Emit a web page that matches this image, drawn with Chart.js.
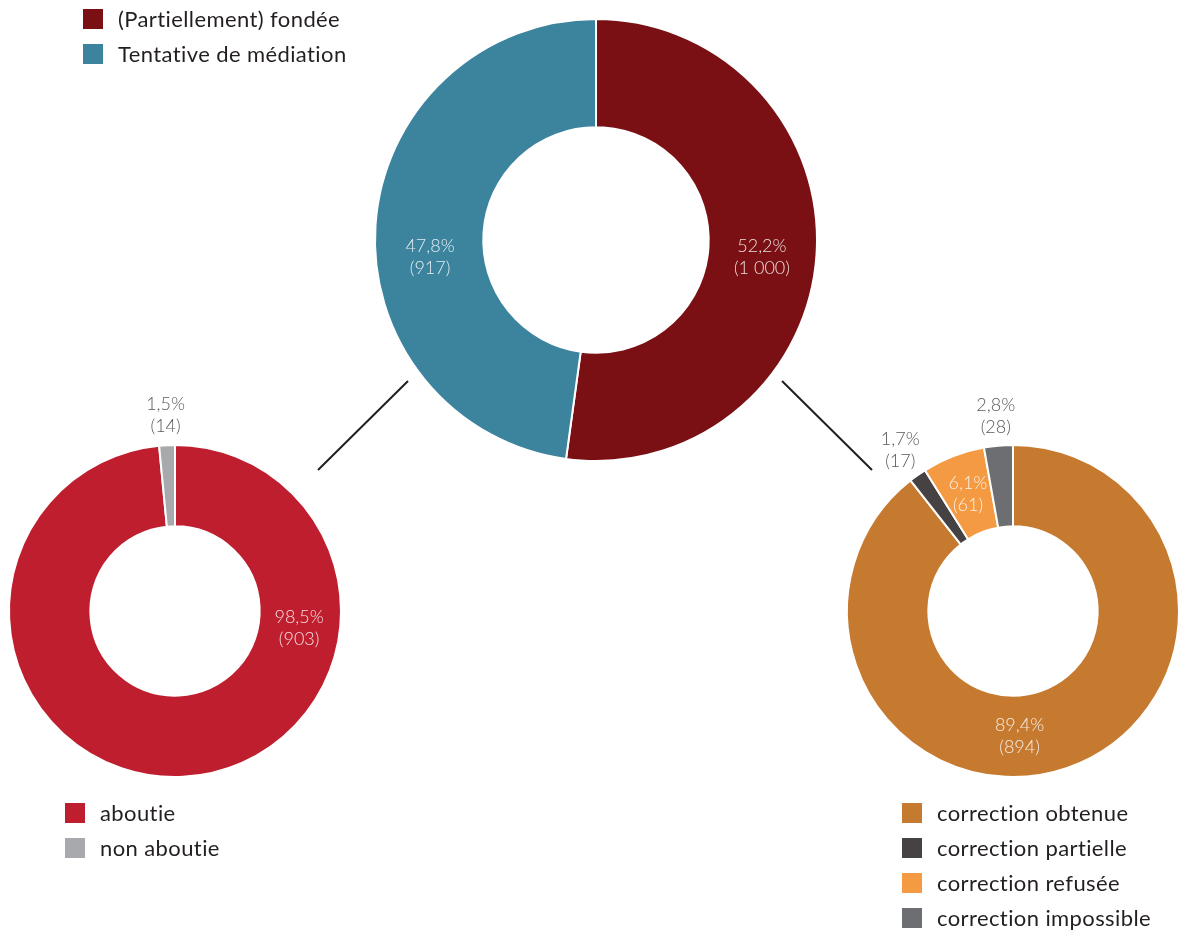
<!DOCTYPE html>
<html>
<head>
<meta charset="utf-8">
<script src="https://cdn.jsdelivr.net/npm/chart.js"></script>
<style>
    body { margin: 0; background: #fff; font-family: Lato, "Open Sans", sans-serif; font-variant-ligatures: none; }
    #wrap { position: relative; width: 1186px; height: 936px; overflow: hidden; }
    #wrap canvas { position: absolute; left: 0; top: 0; }
    .legend { position: absolute; font-size: 22px; letter-spacing: 0.4px; color: #231f20; }
    .legend .row { display: flex; align-items: center; height: 35px; }
    .legend .box { width: 20px; height: 20px; margin-right: 15px; }
</style>
</head>
<body>
<div id="wrap">
    <canvas id="lines" width="1186" height="936"></canvas>
    <canvas id="topChart" width="1186" height="936"></canvas>
    <canvas id="leftChart" width="1186" height="936"></canvas>
    <canvas id="rightChart" width="1186" height="936"></canvas>
    <div class="legend" id="topLegend" style="left:83px; top:1px;"></div>
    <div class="legend" id="leftLegend" style="left:65px; top:795px;"></div>
    <div class="legend" id="rightLegend" style="left:902px; top:795px;"></div>
</div>

<script>
// Données
const topLabels = ['(Partiellement) fondée', 'Tentative de médiation'];
const topValues = [1000, 917];

const leftLabels = ['aboutie', 'non aboutie'];
const leftValues = [903, 14];

const rightLabels = ['correction obtenue', 'correction partielle', 'correction refusée', 'correction impossible'];
const rightValues = [894, 17, 61, 28];

// Couleurs
const topColors = ['#7a1013', '#3c839e'];
const leftColors = ['#be1e2d', '#a7a9ac'];
const rightColors = ['#c67a2f', '#464143', '#f49a42', '#6d6e71'];

function fmtNum(v) {
    return String(v).replace(/\B(?=(\d{3})+(?!\d))/g, ' ');
}

// Etiquettes des secteurs : "xx,x%" + "(n)"
const sliceLabels = {
    id: 'sliceLabels',
    afterDatasetsDraw(chart, args, opts) {
        const ctx = chart.ctx;
        const data = chart.data.datasets[0].data;
        const total = data.reduce((a, b) => a + b, 0);
        chart.getDatasetMeta(0).data.forEach((arc, i) => {
            const p = arc.getProps(['x', 'y', 'startAngle', 'endAngle', 'innerRadius', 'outerRadius'], true);
            const outside = opts.outside[i];
            const a = opts.angles[i] != null ? (opts.angles[i] - 90) * Math.PI / 180 : (p.startAngle + p.endAngle) / 2;
            const r = outside ? p.outerRadius + 30 : (p.innerRadius + p.outerRadius) / 2;
            const x = p.x + Math.cos(a) * r;
            const y = p.y + Math.sin(a) * r;
            const pct = (data[i] / total * 100).toFixed(1).replace('.', ',') + '%';
            ctx.save();
            ctx.font = '300 18px Lato, "Open Sans", sans-serif';
            ctx.fillStyle = outside ? '#58595b' : 'rgba(255,255,255,0.85)';
            ctx.textAlign = 'center';
            ctx.textBaseline = 'middle';
            ctx.fillText(pct, x, y - 11);
            ctx.fillText('(' + fmtNum(data[i]) + ')', x, y + 11);
            ctx.restore();
        });
    }
};

function makeDoughnut(id, labels, values, colors, cx, cy, radius, labelOpts) {
    const half = radius + 1;
    return new Chart(document.getElementById(id), {
        type: 'doughnut',
        data: {
            labels: labels,
            datasets: [{
                data: values,
                backgroundColor: colors,
                borderColor: '#ffffff',
                borderWidth: 2,
                hoverOffset: 0
            }]
        },
        options: {
            responsive: false,
            animation: false,
            cutout: '51%',
            layout: {
                padding: {
                    left: cx - half,
                    top: cy - half,
                    right: 1186 - (cx + half),
                    bottom: 936 - (cy + half)
                }
            },
            plugins: {
                legend: { display: false },
                tooltip: { enabled: false },
                sliceLabels: labelOpts
            }
        },
        plugins: [sliceLabels]
    });
}

function makeLegend(id, labels, colors) {
    const el = document.getElementById(id);
    labels.forEach((l, i) => {
        const row = document.createElement('div');
        row.className = 'row';
        row.innerHTML = '<span class="box" style="background:' + colors[i] + '"></span><span>' + l + '</span>';
        el.appendChild(row);
    });
}

// Traits de liaison
const lc = document.getElementById('lines').getContext('2d');
lc.strokeStyle = '#231f20';
lc.lineWidth = 2;
lc.beginPath();
lc.moveTo(408, 381); lc.lineTo(318, 470);
lc.moveTo(782, 381); lc.lineTo(872, 470);
lc.stroke();

makeDoughnut('topChart', topLabels, topValues, topColors, 596, 240, 221,
    { angles: [96, 264], outside: [false, false] });
makeDoughnut('leftChart', leftLabels, leftValues, leftColors, 175, 611, 166,
    { angles: [98, null], outside: [false, true] });
makeDoughnut('rightChart', rightLabels, rightValues, rightColors, 1013, 611, 166,
    { angles: [177, null, null, null], outside: [false, true, false, true] });

makeLegend('topLegend', topLabels, topColors);
makeLegend('leftLegend', leftLabels, leftColors);
makeLegend('rightLegend', rightLabels, rightColors);
</script>
</body>
</html>
